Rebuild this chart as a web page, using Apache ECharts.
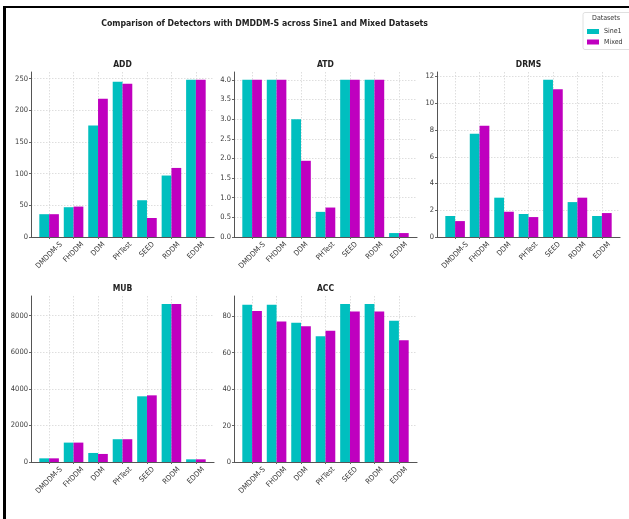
<!DOCTYPE html>
<html>
<head>
<meta charset="utf-8">
<script src="https://cdn.jsdelivr.net/npm/echarts@6/dist/echarts.min.js"></script>
<style>
  html, body { margin: 0; padding: 0; background: #fff; }
  #wrap { position: relative; width: 629px; height: 519px; }
  #chart { width: 629px; height: 519px; }
  #frame { position: absolute; left: 3px; top: 6px; right: 0; bottom: 0;
           border-left: 3px solid #000; border-top: 2px solid #000; pointer-events: none; }
</style>
</head>
<body>
<div id="wrap"><div id="chart"></div><div id="frame"></div></div>
<script>
// Detectors compared on each metric
const detectors = ['DMDDM-S', 'FHDDM', 'DDM', 'PHTest', 'SEED', 'RDDM', 'EDDM'];
const metrics = ['ADD', 'ATD', 'DRMS', 'MUB', 'ACC'];
const datasetNames = ['Sine1', 'Mixed'];

// Metric values per detector (Sine1 / Mixed)
const addSine1 = [36, 47, 176, 245, 58, 97, 248];
const addMixed = [36, 48, 218, 242, 30, 109, 248];
const atdSine1 = [4.0, 4.0, 3.0, 0.64, 4.0, 4.0, 0.1];
const atdMixed = [4.0, 4.0, 1.94, 0.75, 4.0, 4.0, 0.1];
const drmsSine1 = [1.57, 7.72, 2.94, 1.72, 11.75, 2.61, 1.57];
const drmsMixed = [1.19, 8.31, 1.89, 1.49, 11.05, 2.94, 1.79];
const mubSine1 = [200, 1060, 494, 1245, 3590, 8640, 146];
const mubMixed = [200, 1060, 440, 1245, 3643, 8640, 146];
const accSine1 = [86.4, 86.3, 76.5, 69.0, 86.8, 86.8, 77.6];
const accMixed = [82.9, 77.1, 74.5, 72.1, 82.6, 82.6, 66.9];

// Y tick labels per metric
const addTicks = [0, 50, 100, 150, 200, 250];
const atdTicks = [0.0, 0.5, 1.0, 1.5, 2.0, 2.5, 3.0, 3.5, 4.0];
const drmsTicks = [0, 2, 4, 6, 8, 10, 12];
const mubTicks = [0, 2000, 4000, 6000, 8000];
const accTicks = [0, 20, 40, 60, 80];

const seriesByMetric = [
  [addSine1, addMixed], [atdSine1, atdMixed], [drmsSine1, drmsMixed],
  [mubSine1, mubMixed], [accSine1, accMixed]
];
const ticksByMetric = [addTicks, atdTicks, drmsTicks, mubTicks, accTicks];
const decimalsByMetric = [0, 1, 0, 0, 0];

const colors = ['#00BFBF', '#BF00BF'];
const FONT = '"DejaVu Sans Condensed", "Liberation Sans Narrow", "DejaVu Sans", sans-serif';
const TICK_FS = 7.5;
const TICK_COLOR = '#3a3a3a';

// Panel frames (outer axes box) in pixels
const panels = [
  { left: 31,  top: 72,  width: 183, height: 165 },
  { left: 234, top: 72,  width: 183, height: 165 },
  { left: 437, top: 72,  width: 183, height: 165 },
  { left: 31,  top: 296, width: 183, height: 166 },
  { left: 234, top: 296, width: 183, height: 166 }
];
// x range spans 7 category bands plus a 0.24 band margin on each side
const SPAN = 7.48, PAD = 0.24;

// Rotated tick labels are centred under their tick; shift them by their own width
const measureCtx = document.createElement('canvas').getContext('2d');
measureCtx.font = TICK_FS + 'px ' + FONT;
const rich = {};
detectors.forEach((d, i) => {
  const L = measureCtx.measureText(d).width;
  rich['r' + i] = {
    fontSize: TICK_FS, fontFamily: FONT, color: TICK_COLOR,
    padding: [0.5 * L, 0.5 * L, 0, 0]
  };
});

const grid = [], xAxis = [], yAxis = [], series = [], title = [];

title.push({
  text: 'Comparison of Detectors with DMDDM-S across Sine1 and Mixed Datasets',
  left: 264.5, top: 19, textAlign: 'center', padding: 0,
  textStyle: { fontFamily: FONT, fontSize: 8.7, fontWeight: 'bold', color: '#222' }
});

metrics.forEach((name, k) => {
  const p = panels[k];
  const vals = seriesByMetric[k];
  const ticks = ticksByMetric[k];
  const dec = decimalsByMetric[k];
  const yMax = Math.max(...vals[0], ...vals[1]) * 1.05;
  const step = ticks[1] - ticks[0];

  // frame grid: y axis, horizontal grid, bottom spine
  grid.push({ left: p.left, top: p.top, width: p.width, height: p.height, containLabel: false });
  // bar grid: category bands
  const innerLeft = p.left + p.width * PAD / SPAN;
  const innerWidth = p.width * 7 / SPAN;
  grid.push({ left: innerLeft, top: p.top, width: innerWidth, height: p.height, containLabel: false });

  xAxis.push({
    type: 'value', gridIndex: 2 * k, min: 0, max: 1, position: 'bottom',
    axisLine: { show: true, lineStyle: { color: '#555', width: 1.2 } },
    axisTick: { show: false }, axisLabel: { show: false }, splitLine: { show: false }
  });
  xAxis.push({
    type: 'category', gridIndex: 2 * k + 1, data: detectors, position: 'bottom',
    axisLine: { show: false },
    axisTick: { show: true, alignWithLabel: true, length: 2, lineStyle: { color: '#666' } },
    splitLine: { show: true, alignWithLabel: true, lineStyle: { color: '#d6d6d6', type: [1.5, 1.5], width: 0.8 } },
    axisLabel: {
      interval: 0, rotate: 45, margin: 6.3, align: 'center', verticalAlign: 'middle',
      formatter: (v, i) => '{r' + i + '|' + v + '}', rich: rich
    }
  });

  yAxis.push({
    type: 'value', gridIndex: 2 * k, min: 0, max: yMax, interval: step,
    axisLine: { show: true, lineStyle: { color: '#555', width: 1 } },
    axisTick: { show: true, length: 2, lineStyle: { color: '#666' } },
    splitLine: { show: true, showMaxLine: false, lineStyle: { color: '#d6d6d6', type: [1.5, 1.5], width: 0.8 } },
    axisLabel: {
      margin: 3, fontSize: TICK_FS, fontFamily: FONT, color: TICK_COLOR, showMaxLabel: false,
      formatter: v => {
        const n = Math.round(v / step);
        if (Math.abs(n * step - v) > 1e-9 || v > ticks[ticks.length - 1] + 1e-9) return '';
        return v.toFixed(dec);
      }
    }
  });
  yAxis.push({ type: 'value', gridIndex: 2 * k + 1, min: 0, max: yMax, show: false });

  title.push({
    text: name, left: p.left + p.width / 2, top: p.top - 12, textAlign: 'center', padding: 0,
    textStyle: { fontFamily: FONT, fontSize: 8.5, fontWeight: 'bold', color: '#222' }
  });

  datasetNames.forEach((ds, j) => {
    series.push({
      type: 'bar', name: ds, xAxisIndex: 2 * k + 1, yAxisIndex: 2 * k + 1,
      data: vals[j], barGap: '0%', barCategoryGap: '20%',
      itemStyle: { color: colors[j] }
    });
  });
});

const chart = echarts.init(document.getElementById('chart'), null, { renderer: 'canvas' });
chart.setOption({
  animation: false,
  backgroundColor: '#fff',
  color: colors,
  title: title,
  grid: grid,
  xAxis: xAxis,
  yAxis: yAxis,
  series: series,
  legend: {
    data: datasetNames, orient: 'vertical', left: 587, top: 28, padding: 0,
    itemWidth: 12, itemHeight: 5, itemGap: 3.5, icon: 'rect',
    textStyle: { fontFamily: FONT, fontSize: 7, color: '#333' }
  },
  graphic: [
    { type: 'rect', shape: { x: 583, y: 12.5, width: 52, height: 37, r: 2 },
      style: { fill: '#fff', stroke: '#d8d8d8', lineWidth: 0.8 }, z: -1 },
    { type: 'text', x: 606, y: 15, style: { text: 'Datasets', fontFamily: FONT, fontSize: 7,
      fill: '#333', textAlign: 'center' } }
  ]
});
</script>
</body>
</html>
